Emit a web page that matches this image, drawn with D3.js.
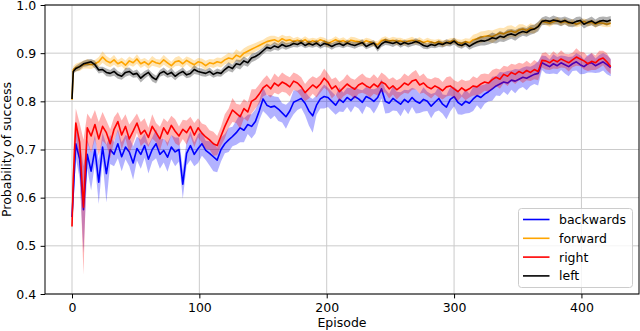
<!DOCTYPE html>
<html>
<head>
<meta charset="utf-8">
<script src="https://cdn.jsdelivr.net/npm/d3@7"></script>
<style>
  html, body { margin: 0; padding: 0; background: #fff; }
  svg { display: block; font-family: "DejaVu Sans", sans-serif; }
</style>
</head>
<body>
<svg id="chart" width="640" height="331"></svg>
<script>
// Episodes: 0, 1, then every 3rd episode up to 423
const episodes = [0, 1, ...d3.range(3, 424, 3)];

const seriesNames = ["backwards", "forward", "right", "left"];
const xTicks = [0, 100, 200, 300, 400];
const yTicks = [0.4, 0.5, 0.6, 0.7, 0.8, 0.9, 1.0];

const backwards = [
  0.560,0.610,0.712,0.680,0.575,0.690,0.655,0.700,0.632,0.705,
  0.650,0.700,0.690,0.712,0.685,0.705,0.695,0.672,0.702,0.690,
  0.708,0.680,0.700,0.712,0.690,0.698,0.684,0.705,0.695,0.700,
  0.628,0.692,0.708,0.690,0.702,0.712,0.698,0.692,0.685,0.678,
  0.700,0.712,0.720,0.727,0.735,0.745,0.740,0.752,0.748,0.758,
  0.780,0.805,0.792,0.788,0.790,0.784,0.776,0.768,0.780,0.798,
  0.802,0.806,0.796,0.780,0.770,0.792,0.805,0.810,0.808,0.800,
  0.792,0.804,0.798,0.808,0.802,0.810,0.805,0.798,0.810,0.806,
  0.800,0.808,0.826,0.800,0.796,0.806,0.800,0.794,0.804,0.798,
  0.808,0.800,0.796,0.804,0.800,0.790,0.798,0.806,0.794,0.788,
  0.804,0.810,0.798,0.792,0.800,0.796,0.805,0.812,0.808,0.815,
  0.820,0.826,0.832,0.836,0.840,0.838,0.844,0.842,0.846,0.850,
  0.848,0.852,0.856,0.858,0.880,0.876,0.872,0.878,0.874,0.880,
  0.876,0.872,0.878,0.882,0.876,0.872,0.878,0.880,0.874,0.878,
  0.882,0.876,0.870
];
const backwardsSpread = [
  0.004,0.030,0.030,0.040,0.090,0.030,0.040,0.030,0.045,0.030,
  0.060,0.030,0.025,0.030,0.030,0.025,0.030,0.035,0.025,0.030,
  0.025,0.030,0.025,0.030,0.030,0.025,0.030,0.025,0.030,0.025,
  0.030,0.025,0.030,0.025,0.030,0.025,0.020,0.025,0.030,0.025,
  0.025,0.020,0.025,0.020,0.025,0.030,0.025,0.020,0.025,0.025,
  0.020,0.025,0.020,0.025,0.020,0.025,0.020,0.025,0.020,0.025,
  0.020,0.020,0.025,0.030,0.035,0.020,0.020,0.025,0.020,0.020,
  0.020,0.025,0.020,0.020,0.025,0.020,0.020,0.025,0.020,0.020,
  0.025,0.020,0.020,0.025,0.020,0.025,0.020,0.025,0.020,0.025,
  0.020,0.025,0.020,0.025,0.020,0.025,0.020,0.025,0.020,0.025,
  0.025,0.020,0.025,0.020,0.025,0.020,0.025,0.020,0.025,0.020,
  0.020,0.025,0.020,0.025,0.020,0.025,0.020,0.025,0.020,0.020,
  0.025,0.020,0.020,0.025,0.015,0.018,0.015,0.020,0.018,0.015,
  0.018,0.020,0.015,0.018,0.020,0.015,0.018,0.020,0.015,0.018,
  0.018,0.020,0.018
];

const forward = [
  0.803,0.866,0.870,0.872,0.876,0.878,0.876,0.878,0.882,0.892,
  0.884,0.880,0.886,0.878,0.882,0.875,0.884,0.880,0.888,0.878,
  0.882,0.876,0.884,0.880,0.878,0.886,0.880,0.874,0.882,0.884,
  0.878,0.885,0.880,0.876,0.882,0.880,0.874,0.880,0.878,0.882,
  0.880,0.886,0.890,0.888,0.896,0.892,0.900,0.904,0.908,0.912,
  0.916,0.920,0.924,0.926,0.928,0.924,0.930,0.926,0.928,0.924,
  0.927,0.924,0.928,0.922,0.926,0.923,0.928,0.925,0.920,0.924,
  0.928,0.924,0.926,0.922,0.927,0.925,0.924,0.921,0.926,0.923,
  0.920,0.918,0.926,0.928,0.925,0.927,0.924,0.926,0.922,0.925,
  0.927,0.924,0.926,0.922,0.925,0.923,0.921,0.924,0.920,0.922,
  0.924,0.926,0.922,0.920,0.924,0.922,0.928,0.930,0.933,0.935,
  0.936,0.934,0.938,0.942,0.940,0.944,0.946,0.943,0.948,0.950,
  0.947,0.952,0.950,0.956,0.966,0.964,0.962,0.965,0.968,0.963,
  0.966,0.962,0.964,0.960,0.963,0.966,0.962,0.964,0.960,0.963,
  0.962,0.960,0.962
];
const forwardSpread = [
  0.004,0.007,0.008,0.009,0.008,0.010,0.009,0.008,0.010,0.012,
  0.010,0.009,0.010,0.008,0.009,0.010,0.009,0.008,0.010,0.009,
  0.008,0.009,0.010,0.008,0.009,0.010,0.009,0.008,0.009,0.010,
  0.009,0.008,0.010,0.009,0.008,0.009,0.010,0.008,0.009,0.009,
  0.010,0.009,0.011,0.010,0.012,0.011,0.010,0.011,0.010,0.009,
  0.009,0.008,0.009,0.010,0.008,0.009,0.008,0.009,0.008,0.007,
  0.007,0.006,0.007,0.008,0.006,0.007,0.006,0.007,0.008,0.006,
  0.007,0.006,0.007,0.006,0.007,0.008,0.006,0.007,0.006,0.007,
  0.006,0.007,0.006,0.007,0.006,0.007,0.008,0.006,0.007,0.006,
  0.007,0.006,0.007,0.006,0.007,0.006,0.007,0.006,0.007,0.006,
  0.007,0.006,0.007,0.008,0.007,0.008,0.010,0.011,0.012,0.011,
  0.012,0.013,0.012,0.011,0.012,0.013,0.012,0.011,0.012,0.010,
  0.009,0.010,0.009,0.008,0.006,0.006,0.007,0.006,0.007,0.006,
  0.007,0.006,0.007,0.006,0.007,0.006,0.007,0.006,0.007,0.006,
  0.007,0.006,0.007
];

const right = [
  0.540,0.640,0.755,0.715,0.580,0.745,0.728,0.752,0.722,0.748,
  0.735,0.712,0.742,0.758,0.730,0.748,0.722,0.738,0.755,0.732,
  0.740,0.725,0.748,0.735,0.722,0.745,0.732,0.750,0.738,0.728,
  0.742,0.735,0.748,0.730,0.745,0.734,0.726,0.720,0.712,0.708,
  0.728,0.748,0.765,0.782,0.775,0.768,0.785,0.778,0.800,0.805,
  0.815,0.828,0.834,0.826,0.838,0.832,0.840,0.836,0.830,0.842,
  0.838,0.830,0.818,0.826,0.834,0.828,0.836,0.848,0.840,0.826,
  0.832,0.820,0.828,0.836,0.830,0.825,0.834,0.838,0.832,0.828,
  0.836,0.830,0.840,0.836,0.826,0.832,0.824,0.830,0.838,0.834,
  0.842,0.845,0.834,0.838,0.830,0.826,0.832,0.828,0.822,0.830,
  0.832,0.826,0.820,0.828,0.822,0.826,0.832,0.830,0.836,0.840,
  0.838,0.845,0.850,0.846,0.856,0.852,0.860,0.856,0.862,0.858,
  0.864,0.860,0.866,0.862,0.885,0.884,0.880,0.886,0.882,0.888,
  0.884,0.880,0.886,0.892,0.888,0.884,0.878,0.883,0.880,0.887,
  0.890,0.882,0.872
];
const rightSpread = [
  0.004,0.060,0.030,0.040,0.140,0.030,0.035,0.030,0.035,0.030,
  0.025,0.030,0.025,0.020,0.030,0.025,0.030,0.025,0.020,0.025,
  0.025,0.020,0.025,0.020,0.025,0.020,0.025,0.020,0.025,0.020,
  0.020,0.025,0.020,0.025,0.020,0.020,0.025,0.020,0.025,0.020,
  0.020,0.025,0.020,0.025,0.020,0.025,0.020,0.020,0.025,0.020,
  0.020,0.018,0.020,0.018,0.020,0.018,0.020,0.018,0.020,0.018,
  0.018,0.020,0.018,0.020,0.018,0.020,0.018,0.020,0.018,0.020,
  0.018,0.020,0.018,0.020,0.018,0.020,0.018,0.020,0.018,0.020,
  0.020,0.018,0.020,0.018,0.020,0.018,0.020,0.018,0.020,0.018,
  0.018,0.020,0.018,0.020,0.018,0.020,0.018,0.020,0.018,0.020,
  0.020,0.018,0.020,0.018,0.020,0.018,0.020,0.018,0.020,0.018,
  0.018,0.020,0.018,0.020,0.018,0.020,0.018,0.020,0.018,0.020,
  0.020,0.018,0.020,0.018,0.015,0.018,0.015,0.018,0.015,0.018,
  0.015,0.018,0.015,0.018,0.015,0.018,0.015,0.018,0.015,0.018,
  0.015,0.018,0.015
];

const left = [
  0.805,0.862,0.868,0.872,0.878,0.880,0.882,0.876,0.865,0.866,
  0.860,0.858,0.862,0.855,0.852,0.860,0.862,0.856,0.858,0.848,
  0.855,0.860,0.850,0.845,0.858,0.862,0.856,0.860,0.852,0.858,
  0.862,0.855,0.858,0.866,0.862,0.860,0.858,0.862,0.856,0.860,
  0.858,0.866,0.872,0.868,0.878,0.876,0.884,0.880,0.890,0.893,
  0.898,0.905,0.912,0.910,0.915,0.912,0.918,0.914,0.916,0.920,
  0.918,0.922,0.916,0.920,0.917,0.921,0.915,0.920,0.918,0.914,
  0.918,0.920,0.916,0.921,0.918,0.916,0.919,0.922,0.914,0.918,
  0.921,0.910,0.919,0.924,0.922,0.920,0.923,0.918,0.922,0.919,
  0.921,0.924,0.921,0.916,0.914,0.918,0.916,0.920,0.918,0.922,
  0.920,0.925,0.918,0.916,0.920,0.914,0.919,0.923,0.926,0.925,
  0.928,0.932,0.930,0.935,0.933,0.938,0.940,0.937,0.942,0.945,
  0.943,0.948,0.950,0.955,0.966,0.968,0.966,0.969,0.967,0.965,
  0.968,0.964,0.962,0.966,0.968,0.960,0.964,0.967,0.962,0.966,
  0.968,0.966,0.969
];
const leftSpread = [
  0.004,0.006,0.006,0.007,0.006,0.007,0.006,0.008,0.007,0.006,
  0.008,0.007,0.009,0.008,0.007,0.009,0.008,0.007,0.008,0.009,
  0.008,0.007,0.009,0.008,0.007,0.008,0.007,0.009,0.008,0.007,
  0.008,0.007,0.008,0.009,0.007,0.008,0.007,0.008,0.007,0.008,
  0.007,0.008,0.009,0.008,0.009,0.010,0.009,0.008,0.009,0.008,
  0.008,0.007,0.008,0.007,0.008,0.007,0.008,0.007,0.006,0.007,
  0.006,0.007,0.006,0.007,0.006,0.007,0.006,0.007,0.006,0.007,
  0.006,0.007,0.006,0.007,0.006,0.007,0.006,0.007,0.006,0.007,
  0.006,0.007,0.006,0.007,0.006,0.007,0.006,0.007,0.006,0.007,
  0.006,0.007,0.006,0.007,0.006,0.007,0.006,0.007,0.006,0.007,
  0.006,0.007,0.006,0.007,0.006,0.007,0.008,0.009,0.010,0.009,
  0.010,0.011,0.010,0.011,0.010,0.011,0.010,0.011,0.010,0.009,
  0.009,0.010,0.009,0.010,0.008,0.009,0.008,0.009,0.008,0.009,
  0.008,0.009,0.008,0.009,0.008,0.009,0.008,0.009,0.008,0.009,
  0.008,0.009,0.008
];

const seriesValues = [backwards, forward, right, left];
const seriesSpread = [backwardsSpread, forwardSpread, rightSpread, leftSpread];
const seriesColors = ["#0000ff", "#ffa500", "#ff0000", "#000000"];

// ---- layout ----
const plot = { left: 45, right: 639, top: 5, bottom: 294 };
const svg = d3.select("#chart");

const x = d3.scaleLinear().domain([-21.2, 445.2]).range([plot.left, plot.right]);
const y = d3.scaleLinear().domain([0.4, 1.0]).range([plot.bottom, plot.top]);

const clipId = "plotclip";
svg.append("defs").append("clipPath").attr("id", clipId)
  .append("rect").attr("x", plot.left).attr("y", plot.top)
  .attr("width", plot.right - plot.left).attr("height", plot.bottom - plot.top);

// grid
const grid = svg.append("g").attr("class", "grid");
grid.selectAll("line.gx").data(xTicks).join("line")
  .attr("x1", d => x(d)).attr("x2", d => x(d))
  .attr("y1", plot.top).attr("y2", plot.bottom)
  .attr("stroke", "#cbcbcb").attr("stroke-width", 1);
grid.selectAll("line.gy").data(yTicks).join("line")
  .attr("x1", plot.left).attr("x2", plot.right)
  .attr("y1", d => y(d)).attr("y2", d => y(d))
  .attr("stroke", "#cbcbcb").attr("stroke-width", 1);

// series
const marks = svg.append("g").attr("clip-path", `url(#${clipId})`);
const area = d3.area().x(d => x(d.ep)).y0(d => y(d.v - d.s)).y1(d => y(d.v + d.s));
const line = d3.line().x(d => x(d.ep)).y(d => y(d.v));

seriesNames.forEach((name, k) => {
  const n = Math.min(episodes.length, seriesValues[k].length, seriesSpread[k].length);
  const pts = d3.range(n).map(i => ({ ep: episodes[i], v: seriesValues[k][i], s: seriesSpread[k][i] }));
  marks.append("path").datum(pts).attr("d", area)
    .attr("fill", seriesColors[k]).attr("fill-opacity", 0.3).attr("stroke", "none");
  marks.append("path").datum(pts).attr("d", line)
    .attr("fill", "none").attr("stroke", seriesColors[k])
    .attr("stroke-width", 1.6).attr("stroke-linejoin", "round");
});

// axes
const fontSize = "12.5px";
const xAxis = svg.append("g").attr("transform", `translate(0,${plot.bottom})`)
  .call(d3.axisBottom(x).tickValues(xTicks).tickSize(4.4).tickPadding(4.4).tickSizeOuter(0));
const yAxis = svg.append("g").attr("transform", `translate(${plot.left},0)`)
  .call(d3.axisLeft(y).tickValues(yTicks).tickFormat(d3.format(".1f")).tickSize(4.4).tickPadding(4.4).tickSizeOuter(0));
[xAxis, yAxis].forEach(a => {
  a.select(".domain").remove();
  a.selectAll(".tick line").attr("stroke", "#000").attr("stroke-width", 1);
  a.selectAll(".tick text").attr("fill", "#000")
    .style("font-family", "DejaVu Sans").style("font-size", fontSize);
});

// frame (spines)
svg.append("rect").attr("x", plot.left).attr("y", plot.top)
  .attr("width", plot.right - plot.left).attr("height", plot.bottom - plot.top)
  .attr("fill", "none").attr("stroke", "#000").attr("stroke-width", 1);

// axis labels
svg.append("text").attr("x", (plot.left + plot.right) / 2).attr("y", 327)
  .attr("text-anchor", "middle").style("font-size", fontSize).text("Episode");
svg.append("text").attr("transform", `translate(10.5,${(plot.top + plot.bottom) / 2}) rotate(-90)`)
  .attr("text-anchor", "middle").style("font-size", fontSize).text("Probability of success");

// legend
const lg = svg.append("g");
lg.append("rect").attr("x", 518.5).attr("y", 208.5).attr("width", 114).attr("height", 79)
  .attr("rx", 3).attr("fill", "#fff").attr("fill-opacity", 0.8)
  .attr("stroke", "#cccccc").attr("stroke-width", 1);
seriesNames.forEach((name, k) => {
  const yy = 219.5 + k * 18.8;
  lg.append("line").attr("x1", 523).attr("x2", 549.5).attr("y1", yy).attr("y2", yy)
    .attr("stroke", seriesColors[k]).attr("stroke-width", 1.6);
  lg.append("text").attr("x", 559).attr("y", yy).attr("dy", "0.36em")
    .style("font-size", fontSize).attr("fill", "#000").text(name);
});
</script>
</body>
</html>
